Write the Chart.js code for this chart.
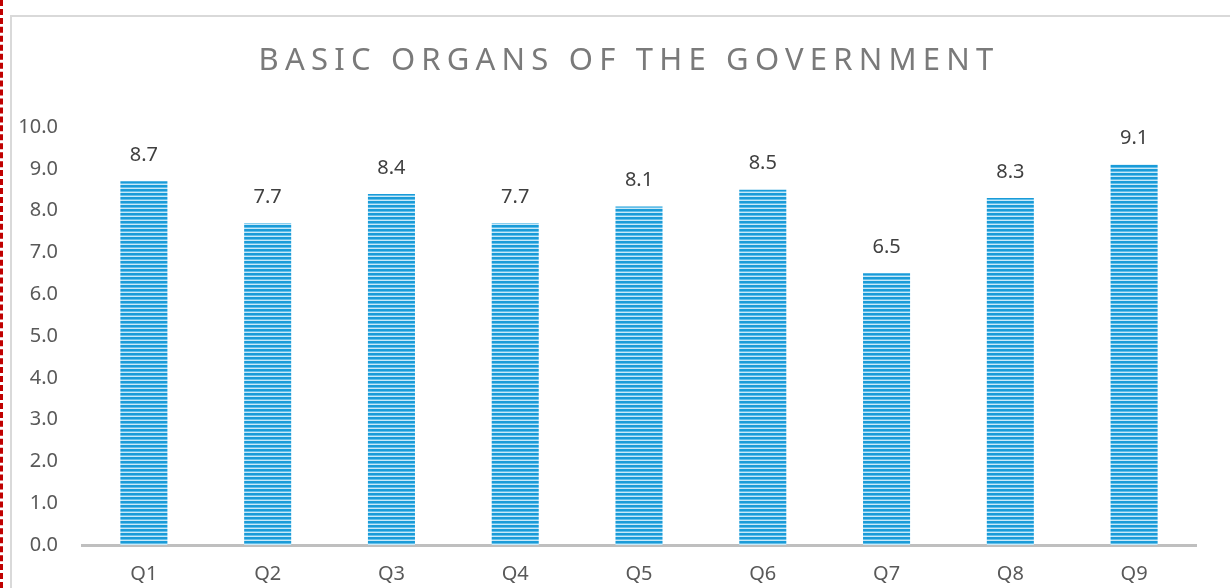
<!DOCTYPE html>
<html>
<head>
<meta charset="utf-8">
<script src="https://cdn.jsdelivr.net/npm/chart.js@4"></script>
<style>
  html, body { margin:0; padding:0; background:#fff; }
  body { width:1230px; height:588px; overflow:hidden; position:relative; }
  #redline { position:absolute; left:0; top:0; width:0; height:588px; border-left:3px dashed #c00000; }
  #frame { position:absolute; left:10px; top:15px; width:1230px; height:600px; border-left:2px solid #d9d9d9; border-top:2px solid #d9d9d9; }
  #wrap { position:absolute; left:12px; top:17px; width:1218px; height:571px; }
</style>
</head>
<body>
<div id="redline"></div>
<div id="frame"></div>
<div id="wrap"><canvas id="c" width="1218" height="571"></canvas></div>
<script>
const categories = ["Q1","Q2","Q3","Q4","Q5","Q6","Q7","Q8","Q9"];
const scores = [8.7, 7.7, 8.4, 7.7, 8.1, 8.5, 6.5, 8.3, 9.1];
const chartTitle = "BASIC ORGANS OF THE GOVERNMENT";
const FONT = "'Noto Sans', 'Open Sans', sans-serif";

function makePattern(ctx) {
  const p = document.createElement('canvas');
  p.width = 4; p.height = 4;
  const pc = p.getContext('2d');
  const rows = ['#1a9bd8', '#1a9bd8', '#62bfea', '#c9e9f8'];
  rows.forEach((c, i) => { pc.fillStyle = c; pc.fillRect(0, i, 4, 1); });
  return ctx.createPattern(p, 'repeat');
}

const canvas = document.getElementById('c');
const ctx = canvas.getContext('2d');

const titlePlugin = {
  id: 'spacedTitle',
  afterDraw(chart) {
    const c = chart.ctx;
    c.save();
    c.font = "31px " + FONT;
    c.fillStyle = '#7a7a7a';
    c.textAlign = 'center';
    c.textBaseline = 'middle';
    if ('letterSpacing' in c) c.letterSpacing = '6.2px';
    c.fillText(chartTitle, 614 + 3, 44);
    c.restore();
  }
};

const labelPlugin = {
  id: 'barLabels',
  afterDatasetsDraw(chart) {
    const c = chart.ctx;
    const meta = chart.getDatasetMeta(0);
    c.save();
    c.font = "20px " + FONT;
    c.fillStyle = '#404040';
    c.textAlign = 'center';
    c.textBaseline = 'middle';
    meta.data.forEach((bar, i) => {
      c.fillText(scores[i].toFixed(1), bar.x, bar.y - 26);
    });
    c.restore();
  }
};

new Chart(ctx, {
  type: 'bar',
  data: {
    labels: categories,
    datasets: [{
      data: scores,
      backgroundColor: makePattern(ctx),
      borderWidth: 0,
      categoryPercentage: 1.0,
      barPercentage: 0.38
    }]
  },
  options: {
    responsive: false,
    animation: false,
    layout: { padding: { top: 110, right: 34, left: 0, bottom: 0 } },
    plugins: { legend: { display: false }, title: { display: false }, tooltip: { enabled: false } },
    scales: {
      x: {
        grid: { display: false, drawTicks: false },
        border: { display: true, color: '#bfbfbf', width: 3 },
        ticks: { color: '#595959', font: { family: FONT, size: 20 }, padding: 17 },
        afterFit(s) { s.height = 43; }
      },
      y: {
        min: 0, max: 10,
        grid: { display: false, drawTicks: false },
        border: { display: false },
        ticks: { stepSize: 1, color: '#595959', font: { family: FONT, size: 20 }, padding: 24,
                 callback: v => Number(v).toFixed(1) },
        afterFit(s) { s.width = 70; }
      }
    }
  },
  plugins: [titlePlugin, labelPlugin]
});
</script>
</body>
</html>
